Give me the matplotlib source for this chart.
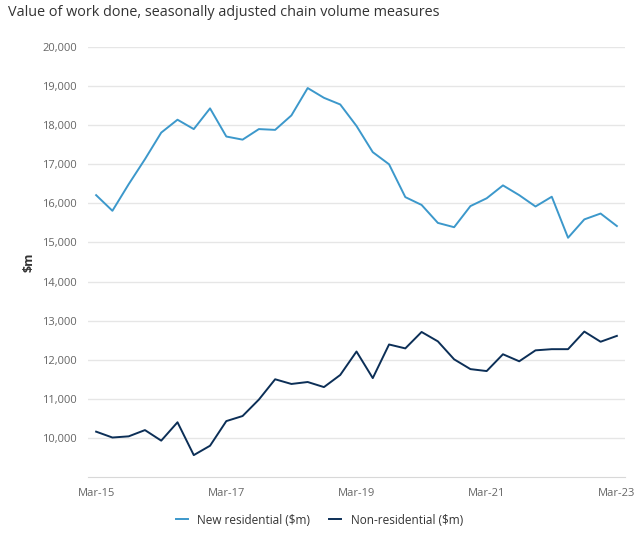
import matplotlib
matplotlib.use("Agg")
import matplotlib.pyplot as plt
import numpy as np

plt.rcParams['font.family'] = ['Open Sans', 'DejaVu Sans']

# quarterly, Mar-15 .. Mar-23
quarters = ["Mar-15", "Jun-15", "Sep-15", "Dec-15", "Mar-16", "Jun-16", "Sep-16", "Dec-16",
            "Mar-17", "Jun-17", "Sep-17", "Dec-17", "Mar-18", "Jun-18", "Sep-18", "Dec-18",
            "Mar-19", "Jun-19", "Sep-19", "Dec-19", "Mar-20", "Jun-20", "Sep-20", "Dec-20",
            "Mar-21", "Jun-21", "Sep-21", "Dec-21", "Mar-22", "Jun-22", "Sep-22", "Dec-22",
            "Mar-23"]

new_residential = [16210, 15810, 16490, 17130, 17810, 18140, 17900, 18430,
                   17710, 17630, 17900, 17880, 18250, 18950, 18700, 18530,
                   17980, 17310, 17000, 16160, 15960, 15500, 15390, 15930,
                   16130, 16460, 16210, 15920, 16170, 15120, 15590, 15740,
                   15420]

non_residential = [10160, 10010, 10040, 10200, 9930, 10400, 9560, 9800,
                   10430, 10560, 10980, 11500, 11380, 11430, 11300, 11610,
                   12210, 11530, 12390, 12290, 12710, 12470, 12010, 11760,
                   11710, 12140, 11960, 12240, 12270, 12270, 12720, 12460,
                   12610]

title = "Value of work done, seasonally adjusted chain volume measures"

fig = plt.figure(figsize=(6.39, 5.38), dpi=100)
W, H = 639, 538
ax = fig.add_axes([88 / W, 1 - 477 / H, (625 - 88) / W, (477 - 47) / H])

x = np.arange(len(quarters))
ax.plot(x, new_residential, color="#3c98cb", lw=1.4, label=r"New residential (\$m)")
ax.plot(x, non_residential, color="#0c2f57", lw=1.4, label=r"Non-residential (\$m)")

ax.set_xlim(-0.5, 32.5)
ax.set_ylim(9000, 20000)
ax.set_yticks(np.arange(10000, 20001, 1000))
ax.set_yticklabels([f"{v:,}" for v in range(10000, 20001, 1000)])
ax.set_xticks(x[::8])
ax.set_xticklabels(quarters[::8])

ax.yaxis.grid(True, color="#e6e6e6", lw=1)
ax.set_axisbelow(True)
for s in ["top", "right", "left"]:
    ax.spines[s].set_visible(False)
ax.spines["bottom"].set_color("#d8d8d8")
ax.tick_params(axis="both", length=0, labelsize=8, labelcolor="#666666")
ax.tick_params(axis="y", pad=8)
ax.tick_params(axis="x", pad=8)

ax.set_ylabel(r"\$m", fontsize=9, fontweight="bold", color="#333333", labelpad=5)

fig.text(8 / W, 1 - 12 / H, title, fontsize=10.4, color="#333333", va="center", ha="left")

fig.legend(*ax.get_legend_handles_labels(), loc="center", bbox_to_anchor=(0.5, 1 - 520 / H),
           ncol=2, frameon=False, fontsize=8.5, handlelength=1.0, columnspacing=1.6,
           labelcolor="#333333")

fig.savefig("out.png", dpi=100)
